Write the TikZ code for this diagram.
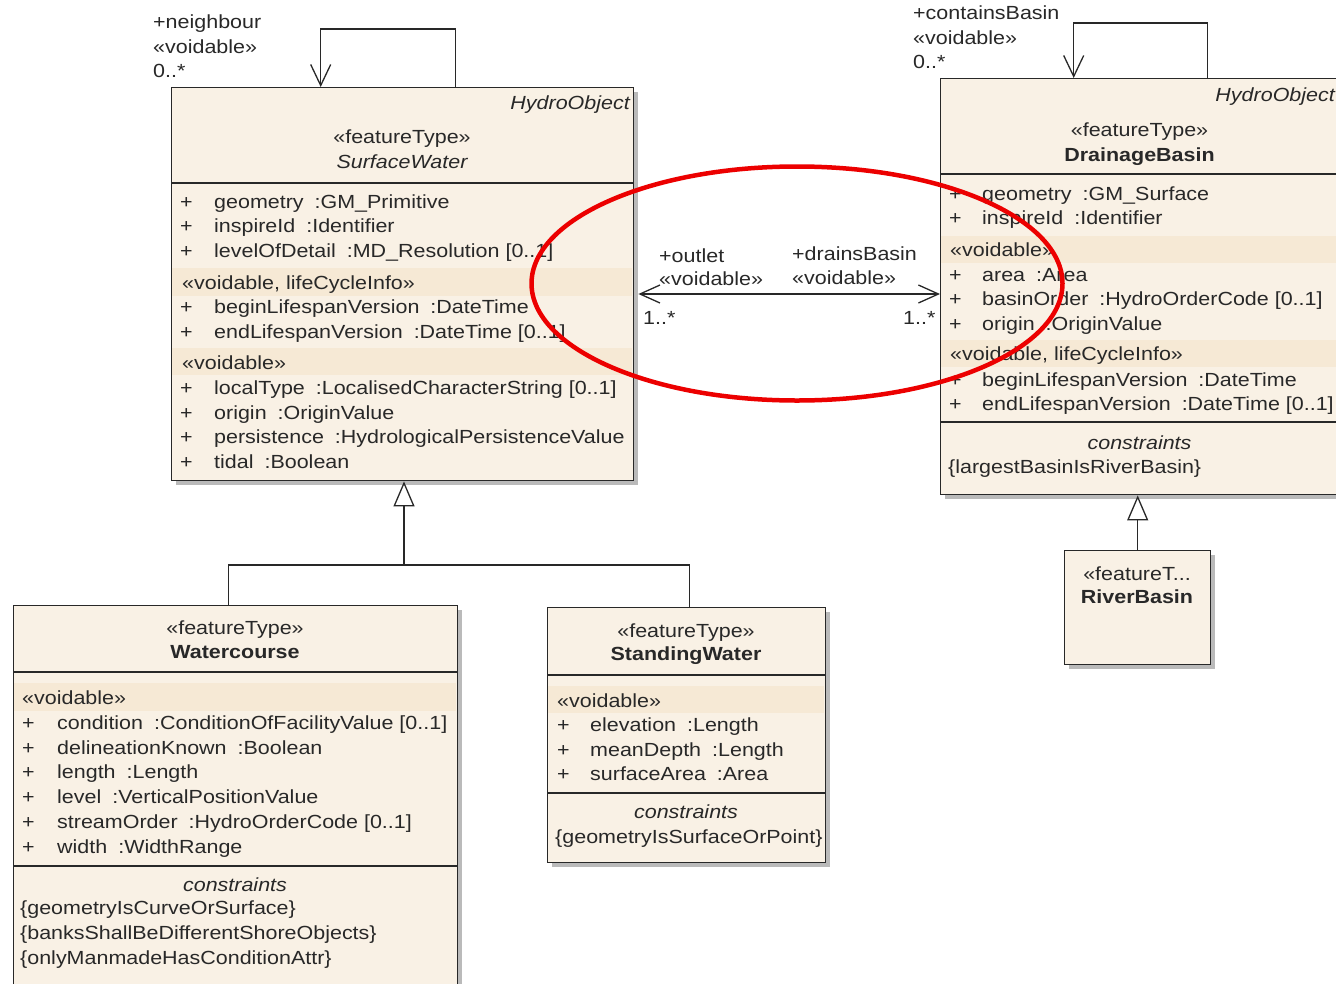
\documentclass[tikz,border=0pt]{standalone}
\usepackage{fontspec}
\setmainfont{Liberation Sans}[FakeStretch=1.13]
\usetikzlibrary{arrows.meta,shadows}
\definecolor{umlfill}{RGB}{249,241,229}
\definecolor{umlband}{RGB}{246,233,213}
\definecolor{umlline}{RGB}{40,40,40}
\definecolor{umltext}{RGB}{40,40,40}
\definecolor{ellred}{RGB}{236,0,0}
\newcommand\umlf{\fontsize{19}{22}\selectfont}
\newcommand\umlat[2]{#1\hspace{11pt}:#2}
\begin{document}
\begin{tikzpicture}[x=1pt,y=-1pt,
  every node/.style={font=\umlf, text=umltext},
  box/.style={draw=umlline, line width=1.4pt, fill=umlfill, anchor=north west, inner sep=0,
    drop shadow={shadow xshift=4pt, shadow yshift=-4pt, opacity=0.45, fill=black!60}},
  divl/.style={draw=umlline, line width=1.4pt},
  tl/.style={anchor=base west, inner sep=0},
  tcn/.style={anchor=base, inner sep=0},
  trt/.style={anchor=base east, inner sep=0},
  ln/.style={draw=umlline, line width=1.3pt},
  navi/.style={ln, -{Straight Barb[length=21pt, width=20pt]}},
  assoc/.style={ln, {Straight Barb[length=20pt, width=18pt]}-{Straight Barb[length=20pt, width=18pt]}},
  gen/.style={ln, -{Triangle[open, length=25pt, width=21pt]}}]
\useasboundingbox (0,0) rectangle (1336,983);
\fill[white] (0,0) rectangle (1336,983);
\clip (0,0) rectangle (1336,983);

% ---------- SurfaceWater ----------
\node[box, minimum width=462pt, minimum height=393pt] (sw) at (171,87) {};
\fill[umlband] (172,268) rectangle (632,296);
\fill[umlband] (172,348) rectangle (632,375);
\draw[divl] (171,183) -- (633,183);
\node[trt, font=\umlf\itshape] (swho) at (630,109) {HydroObject};
\node[tcn] (swst) at (402,143) {«featureType»};
\node[tcn, font=\umlf\itshape] (swnm) at (402,168) {SurfaceWater};
\node[tl] (swb1) at (182,289) {«voidable, lifeCycleInfo»};
\node[tl] (swb2) at (182,369) {«voidable»};
\foreach \yy/\tx [count=\i] in {
  208/{\umlat{geometry}{GM\_Primitive}},
  232/{\umlat{inspireId}{Identifier}},
  257/{\umlat{levelOfDetail}{MD\_Resolution [0..1]}},
  313/{\umlat{beginLifespanVersion}{DateTime}},
  338/{\umlat{endLifespanVersion}{DateTime [0..1]}},
  394/{\umlat{localType}{LocalisedCharacterString [0..1]}},
  419/{\umlat{origin}{OriginValue}},
  443/{\umlat{persistence}{HydrologicalPersistenceValue}},
  468/{\umlat{tidal}{Boolean}}}
 {\node[tl] (swp\i) at (180,\yy) {+}; \node[tl] (swa\i) at (214,\yy) {\tx};}

% ---------- DrainageBasin ----------
\node[box, minimum width=399pt, minimum height=416pt] (db) at (940,78) {};
\fill[umlband] (941,236) rectangle (1338,263);
\fill[umlband] (941,340) rectangle (1338,367);
\draw[divl] (940,174) -- (1339,174);
\draw[divl] (940,422) -- (1339,422);
\node[trt, font=\umlf\itshape] (dbho) at (1335,101) {HydroObject};
\node[tcn] (dbst) at (1139.5,136) {«featureType»};
\node[tcn, font=\umlf\bfseries] (dbnm) at (1139.5,161) {DrainageBasin};
\node[tl] (dbb1) at (950,256) {«voidable»};
\node[tl] (dbb2) at (950,360) {«voidable, lifeCycleInfo»};
\foreach \yy/\tx [count=\i] in {
  200/{\umlat{geometry}{GM\_Surface}},
  224/{\umlat{inspireId}{Identifier}},
  281/{\umlat{area}{Area}},
  305/{\umlat{basinOrder}{HydroOrderCode [0..1]}},
  330/{\umlat{origin}{OriginValue}},
  386/{\umlat{beginLifespanVersion}{DateTime}},
  410/{\umlat{endLifespanVersion}{DateTime [0..1]}}}
 {\node[tl] (dbp\i) at (949,\yy) {+}; \node[tl] (dba\i) at (982,\yy) {\tx};}
\node[tcn, font=\umlf\itshape] (dbcn) at (1139.5,449) {constraints};
\node[tl] (dbc1) at (948,473) {\{largestBasinIsRiverBasin\}};

% ---------- RiverBasin ----------
\node[box, minimum width=146pt, minimum height=114pt] (rb) at (1064,550) {};
\node[tcn] (rbst) at (1137,580) {«featureT...};
\node[tcn, font=\umlf\bfseries] (rbnm) at (1137,603) {RiverBasin};

% ---------- Watercourse ----------
\node[box, minimum width=444pt, minimum height=400pt] (wc) at (13,605) {};
\fill[umlband] (14,683) rectangle (456,711);
\draw[divl] (13,672) -- (457,672);
\draw[divl] (13,866) -- (457,866);
\node[tcn] (wcst) at (235,634) {«featureType»};
\node[tcn, font=\umlf\bfseries] (wcnm) at (235,658) {Watercourse};
\node[tl] (wcb1) at (22,704) {«voidable»};
\foreach \yy/\tx [count=\i] in {
  729/{\umlat{condition}{ConditionOfFacilityValue [0..1]}},
  754/{\umlat{delineationKnown}{Boolean}},
  778/{\umlat{length}{Length}},
  803/{\umlat{level}{VerticalPositionValue}},
  828/{\umlat{streamOrder}{HydroOrderCode [0..1]}},
  853/{\umlat{width}{WidthRange}}}
 {\node[tl] (wcp\i) at (22,\yy) {+}; \node[tl] (wca\i) at (57,\yy) {\tx};}
\node[tcn, font=\umlf\itshape] (wccn) at (235,891) {constraints};
\node[tl] (wcc1) at (20,914) {\{geometryIsCurveOrSurface\}};
\node[tl] (wcc2) at (20,939) {\{banksShallBeDifferentShoreObjects\}};
\node[tl] (wcc3) at (20,964) {\{onlyManmadeHasConditionAttr\}};

% ---------- StandingWater ----------
\node[box, minimum width=278pt, minimum height=255pt] (stw) at (547,607) {};
\fill[umlband] (548,686) rectangle (824,713);
\draw[divl] (547,675) -- (825,675);
\draw[divl] (547,793) -- (825,793);
\node[tcn] (stst) at (686,637) {«featureType»};
\node[tcn, font=\umlf\bfseries] (stnm) at (686,660) {StandingWater};
\node[tl] (stb1) at (557,707) {«voidable»};
\foreach \yy/\tx [count=\i] in {
  731/{\umlat{elevation}{Length}},
  756/{\umlat{meanDepth}{Length}},
  780/{\umlat{surfaceArea}{Area}}}
 {\node[tl] (stp\i) at (557,\yy) {+}; \node[tl] (sta\i) at (590,\yy) {\tx};}
\node[tcn, font=\umlf\itshape] (stcn) at (686,818) {constraints};
\node[tl] (stc1) at (555,843) {\{geometryIsSurfaceOrPoint\}};

% ---------- connectors ----------
\draw[navi] ([xshift=53pt]sw.north) -- ++(0,-58) -| ([xshift=-82pt]sw.north);
\draw[navi] ([xshift=67.5pt]db.north) -- ++(0,-55) -| ([xshift=-66.5pt]db.north);
\coordinate (ay) at (0,294);
\coordinate (swr) at ([xshift=4pt]sw.east);
\draw[assoc] (swr |- ay) -- (db.west |- ay);
\coordinate (jn) at (404,565);
\draw[ln] ([xshift=-7pt]wc.north) |- (jn);
\draw[ln] ([xshift=3pt]stw.north) |- (jn);
\draw[gen] (jn) -- (jn |- sw.south);
\draw[gen] (rb.north) -- (rb.north |- db.south);

% ---------- role labels ----------
\node[tl] (nb1) at (153,28) {+neighbour};
\node[tl] (nb2) at (153,53) {«voidable»};
\node[tl] (nb3) at (153,77) {0..*};
\node[tl] (cb1) at (913,19) {+containsBasin};
\node[tl] (cb2) at (913,44) {«voidable»};
\node[tl] (cb3) at (913,68) {0..*};
\node[tl] (ol1) at (659,262) {+outlet};
\node[tl] (ol2) at (659,285) {«voidable»};
\node[tl] (ol3) at (643,324) {1..*};
\node[tl] (dr1) at (792,260) {+drainsBasin};
\node[tl] (dr2) at (792,284) {«voidable»};
\node[tl] (dr3) at (903,324) {1..*};

% ---------- red ellipse ----------
\draw[ellred, line width=4.5pt] (797,283.5) ellipse [x radius=265.5pt, y radius=117pt];
\end{tikzpicture}
\end{document}
